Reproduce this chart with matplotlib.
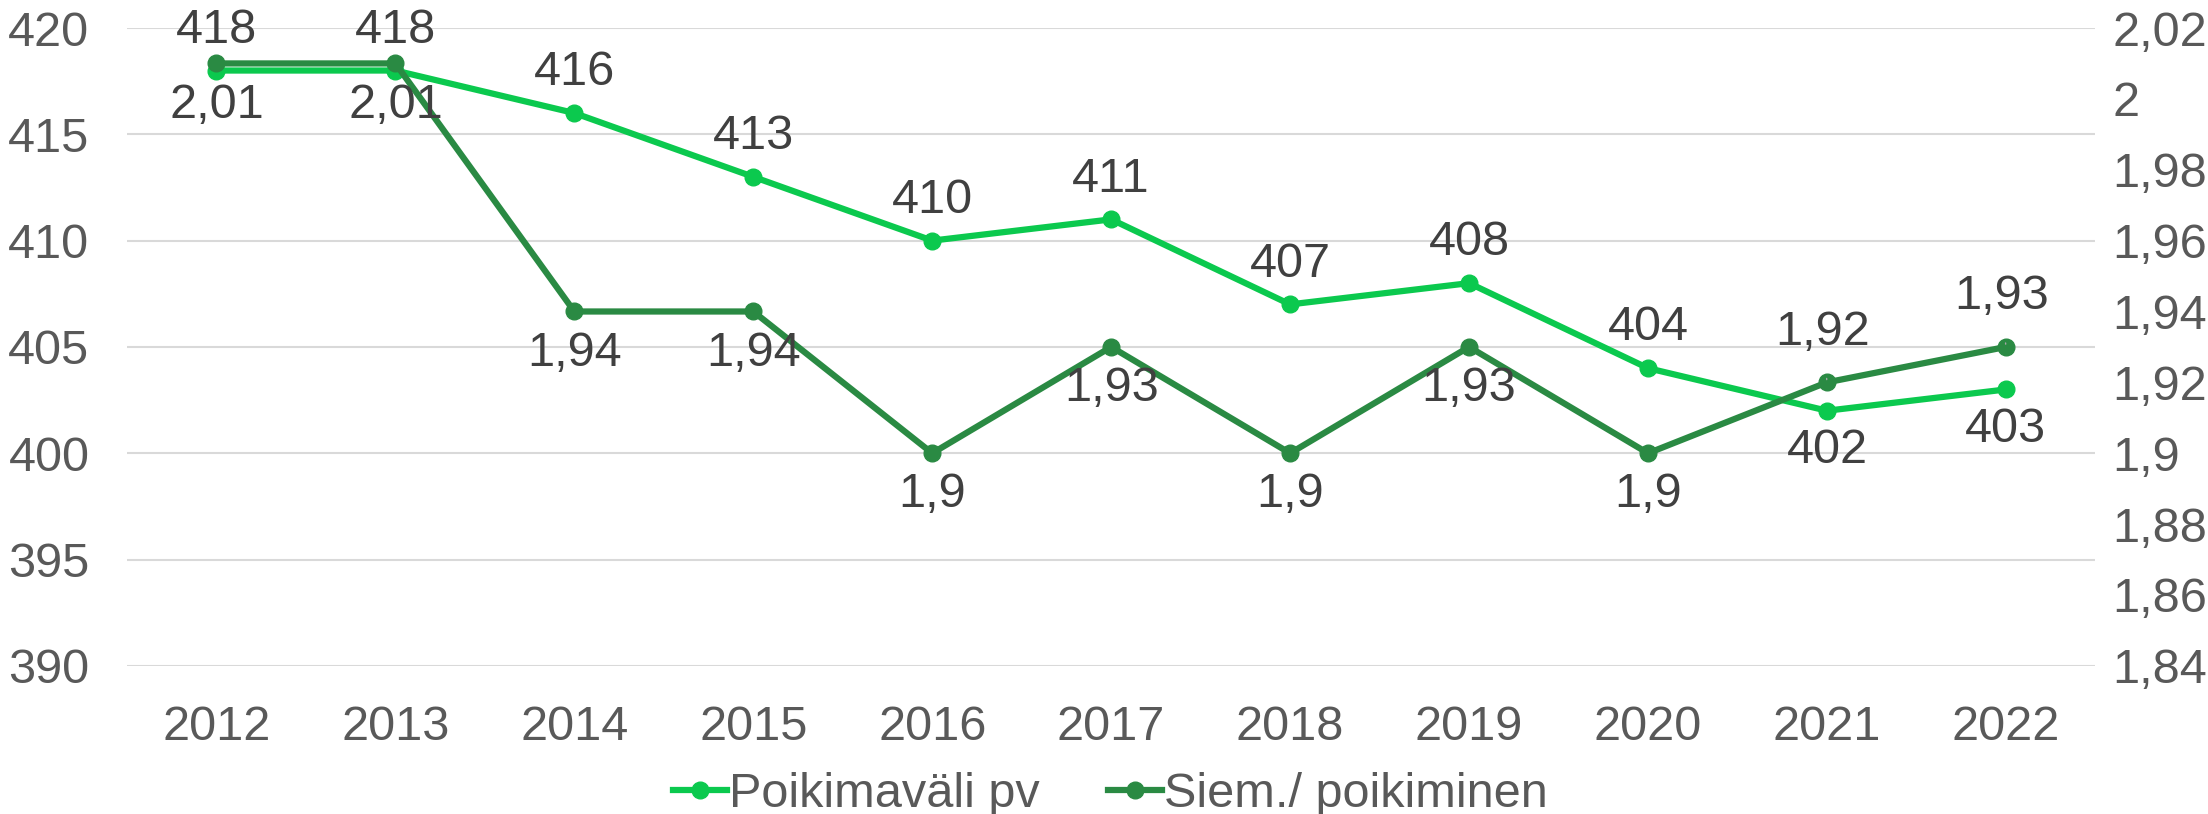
#!/usr/bin/env python3

import matplotlib
matplotlib.use("Agg")
import matplotlib.pyplot as plt
from matplotlib.ticker import FuncFormatter, MultipleLocator


years = ["2012", "2013", "2014", "2015", "2016", "2017", "2018", "2019", "2020", "2021", "2022"]
poikimavali = [418, 418, 416, 413, 410, 411, 407, 408, 404, 402, 403]
siemennys = [2.01, 2.01, 1.94, 1.94, 1.90, 1.93, 1.90, 1.93, 1.90, 1.92, 1.93]

# label placement: +1 above the point, -1 below
pv_side = [1, 1, 1, 1, 1, 1, 1, 1, 1, -1, -1]
siem_side = [-1, -1, -1, -1, -1, -1, -1, -1, -1, 1, 1]
siem_leader = [False] * 9 + [True, True]

light = "#0bc94e"
dark = "#2a8a43"
tick_col = "#595959"
label_col = "#404040"
fs = 35

plt.rcParams["font.family"] = ["Liberation Sans", "DejaVu Sans"]


def fi(v):
    s = f"{round(v, 2):.2f}".rstrip("0").rstrip(".")
    return s.replace(".", ",")


fig = plt.figure(figsize=(22.08, 8.14), dpi=100)
ax = fig.add_axes([0.0575, 0.182, 0.8915, 0.7836])
ax2 = ax.twinx()

x = list(range(len(years)))

ax.plot(x, poikimavali, color=light, lw=4.5, marker="o", ms=12, label="Poikimaväli pv", zorder=3)
ax2.plot(x, siemennys, color=dark, lw=4.5, marker="o", ms=12, label="Siem./ poikiminen", zorder=3)

ax.set_xlim(-0.5, len(years) - 0.5)
ax.set_ylim(390, 420)
ax2.set_ylim(1.84, 2.02)
ax.yaxis.set_major_locator(MultipleLocator(5))
ax2.yaxis.set_major_locator(MultipleLocator(0.02))
ax2.yaxis.set_major_formatter(FuncFormatter(lambda v, p: fi(v)))

ax.set_xticks(x)
ax.set_xticklabels(years)
ax.grid(axis="y", color="#d9d9d9", lw=1.5)
ax.set_axisbelow(True)

for a in (ax, ax2):
    for s in a.spines.values():
        s.set_visible(False)
ax.tick_params(axis="x", length=0, pad=28, labelsize=fs, labelcolor=tick_col)
ax.tick_params(axis="y", length=0, pad=27, labelsize=fs, labelcolor=tick_col)
ax2.tick_params(axis="y", length=0, pad=12, labelsize=fs, labelcolor=tick_col)

for i, v in enumerate(poikimavali):
    ax.annotate(str(v), (i, v), xytext=(0, 29 * pv_side[i]), textcoords="offset points",
                ha="center", va="center", fontsize=fs, color=label_col, zorder=5)

for i, v in enumerate(siemennys):
    if siem_leader[i]:
        ax2.annotate(fi(v), (i, v), xytext=(-3, 36 * siem_side[i]), textcoords="offset points",
                     ha="center", va="center", fontsize=fs, color=label_col, zorder=5,
                     arrowprops=dict(arrowstyle="-", color="#a6a6a6", lw=1, shrinkA=15, shrinkB=2))
    else:
        ax2.annotate(fi(v), (i, v), xytext=(0, 30 * siem_side[i]), textcoords="offset points",
                     ha="center", va="center", fontsize=fs, color=label_col, zorder=5)

h1, l1 = ax.get_legend_handles_labels()
h2, l2 = ax2.get_legend_handles_labels()
fig.legend(h1 + h2, l1 + l2, loc="lower center", bbox_to_anchor=(0.503, -0.058), ncol=2,
           frameon=False, fontsize=fs, labelcolor=tick_col, handlelength=1.1,
           handletextpad=0.05, columnspacing=1.4)

fig.savefig("out.png", dpi=100)
